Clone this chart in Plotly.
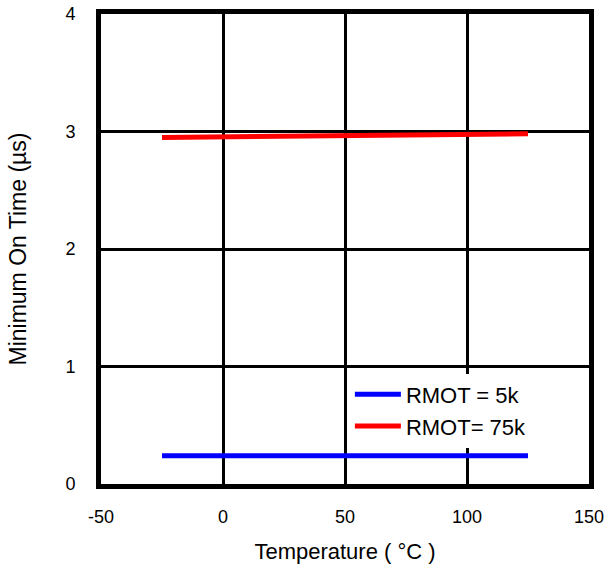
import plotly.graph_objects as go

temps = [-25, 0, 25, 50, 75, 100, 125]
rmot_5k = [0.24, 0.24, 0.24, 0.24, 0.24, 0.24, 0.24]
rmot_75k = [2.95, 2.955, 2.96, 2.965, 2.975, 2.98, 2.98]

x_ticks = [-50, 0, 50, 100, 150]
x_tick_labels = ["-50", "0", "50", "100", "150"]
y_ticks = [0, 1, 2, 3, 4]

fig = go.Figure()
fig.add_trace(go.Scatter(x=temps, y=rmot_5k, mode="lines", name="RMOT = 5k",
                         line=dict(color="#0000ff", width=5)))
fig.add_trace(go.Scatter(x=temps, y=rmot_75k, mode="lines", name="RMOT= 75k",
                         line=dict(color="#ff0000", width=5)))

font = "Liberation Sans, Arial, sans-serif"
fig.update_layout(
    width=608, height=574,
    margin=dict(l=101, r=19, t=14, b=90, autoexpand=False),
    plot_bgcolor="white", paper_bgcolor="white",
    font=dict(family=font, color="#000000", size=18),
    showlegend=True,
    legend=dict(x=0.51, y=0.235, xanchor="left", yanchor="top",
                bgcolor="white", borderwidth=0,
                font=dict(size=22, family=font, color="#000000"), tracegroupgap=0,
                itemwidth=46),
    xaxis=dict(range=[-50, 150], tickvals=x_ticks, ticktext=x_tick_labels, showgrid=True,
               gridcolor="black", gridwidth=3, showline=True, linecolor="black",
               linewidth=5, mirror=True, zeroline=False, ticks="", automargin=False,
               ticklabelstandoff=12, tickfont=dict(size=18),
               title=dict(text="Temperature ( °C )", font=dict(size=22), standoff=20)),
    yaxis=dict(range=[0, 4], tickvals=y_ticks, showgrid=True,
               gridcolor="black", gridwidth=3, showline=True, linecolor="black",
               linewidth=5, mirror=True, zeroline=False, ticks="", automargin=False,
               ticklabelstandoff=17, tickfont=dict(size=18),
               title=dict(text="Minimum On Time (µs)", font=dict(size=23), standoff=34)),
)
fig.write_html("out.html", config={"displayModeBar": False},
               post_script="document.body.style.margin='0px';")
